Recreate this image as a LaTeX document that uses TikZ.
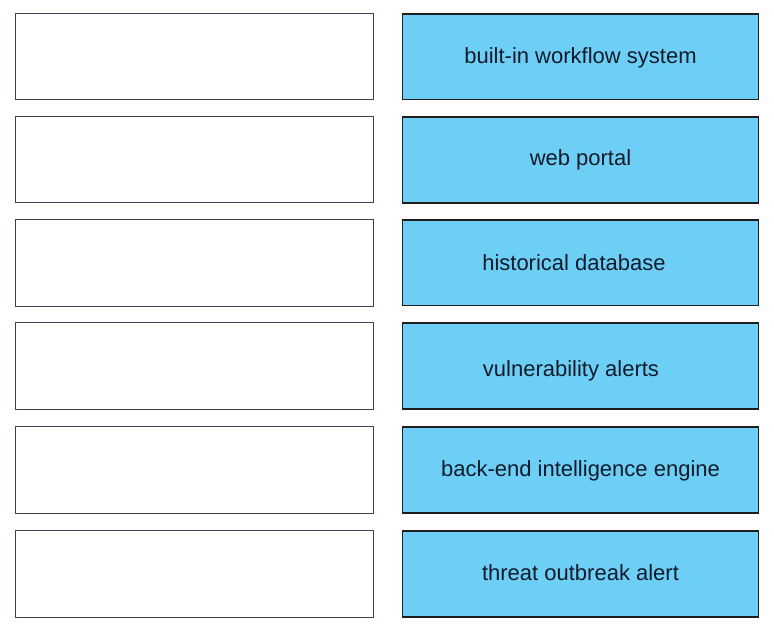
\documentclass[tikz,border=0pt]{standalone}
\usepackage{fontspec}
\setmainfont{Liberation Sans}
\newcommand{\lowered}[2]{\raisebox{#1}{#2}}
\begin{document}
\begin{tikzpicture}[x=1pt,y=-1pt,
  answerbox/.style={draw=leftborder,line width=1pt,fill=white,minimum width=358pt,minimum height=86.5pt,inner sep=0pt,anchor=center},
  optionbox/.style={draw=rightborder,line width=1.7pt,fill=optblue,minimum width=356pt,minimum height=85.5pt,inner sep=0pt,anchor=center,
    text=txtcol,font=\fontsize{22pt}{26pt}\selectfont,text height=16pt,text depth=3.5pt}]
\definecolor{leftborder}{HTML}{3A4552}
\definecolor{rightborder}{HTML}{1E1E1E}
\definecolor{optblue}{HTML}{6ECFF6}
\definecolor{txtcol}{HTML}{101B2A}
\useasboundingbox (0,0) rectangle (774,634);
\fill[white] (0,0) rectangle (774,634);
% left empty answer boxes
\node[answerbox] (a1) at (194.5,56.5) {};
\node[answerbox] (a2) at (194.5,159.6) {};
\node[answerbox] (a3) at (194.5,262.8) {};
\node[answerbox] (a4) at (194.5,365.9) {};
\node[answerbox] (a5) at (194.5,470.0) {};
\node[answerbox] (a6) at (194.5,574.1) {};
% right option boxes
\node[optionbox] (b1) at (580.5,56.6) {\lowered{-0.5pt}{built-in workflow system}};
\node[optionbox] (b2) at (580.5,160.0) {\lowered{1pt}{web portal}};
\node[optionbox] (b3) at (580.5,262.8) {\lowered{-1.5pt}{historical database}\hspace*{13pt}};
\node[optionbox] (b4) at (580.5,366.0) {\lowered{-4.5pt}{vulnerability alerts}\hspace*{19pt}};
\node[optionbox] (b5) at (580.5,470.0) {\lowered{-0.5pt}{back-end intelligence engine}};
\node[optionbox] (b6) at (580.5,574.0) {threat outbreak alert};
\end{tikzpicture}
\end{document}
